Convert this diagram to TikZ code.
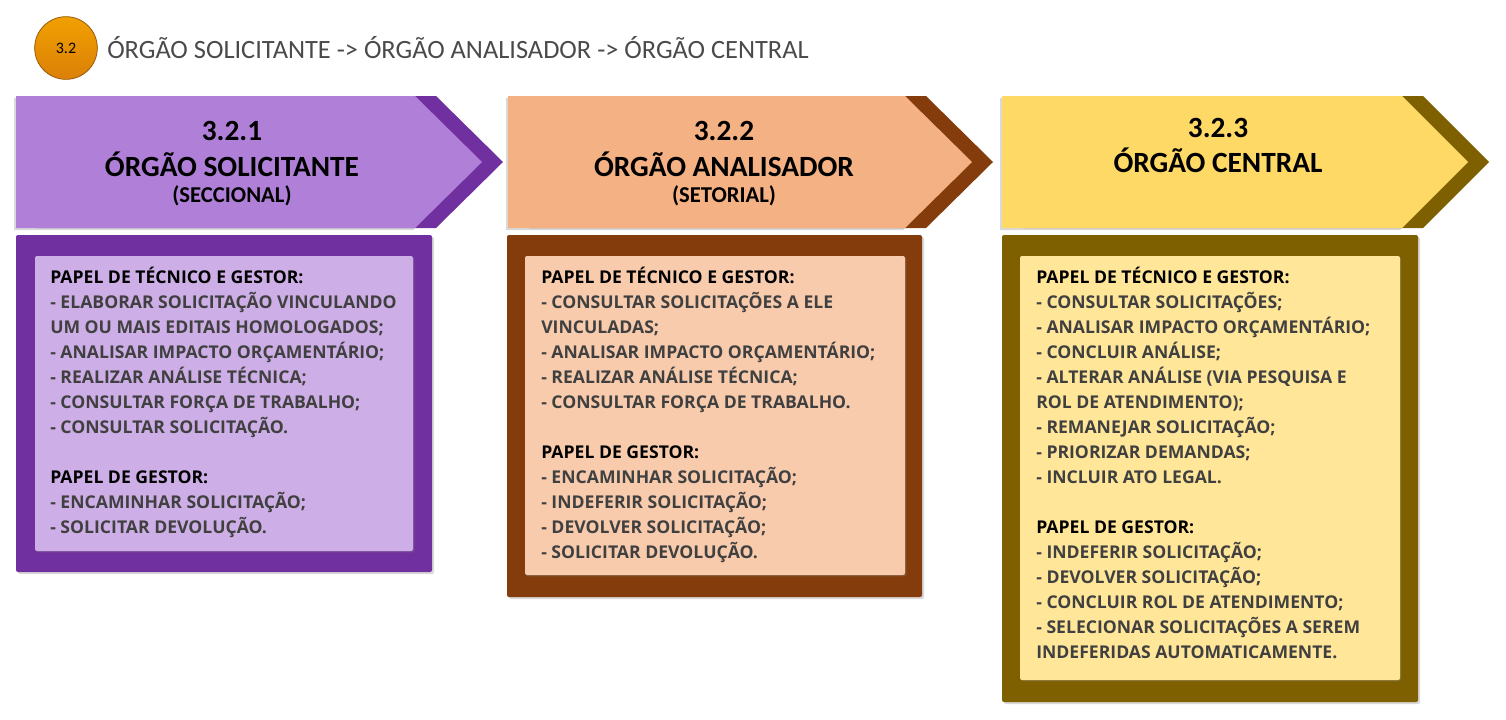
\documentclass[tikz,border=0pt]{standalone}
\usepackage{fontspec}
\setmainfont{Carlito}
\newfontfamily\bodyfont{Open Sans}
\usetikzlibrary{shadows}

\definecolor{purpledark}{HTML}{7030A0}
\definecolor{purplehead}{HTML}{B07FD8}
\definecolor{purplebody}{HTML}{CDAEE6}
\definecolor{browndark}{HTML}{843C0C}
\definecolor{peachhead}{HTML}{F4B183}
\definecolor{peachbody}{HTML}{F8CBAD}
\definecolor{olivedark}{HTML}{7F6000}
\definecolor{yellowhead}{HTML}{FFD966}
\definecolor{yellowbody}{HTML}{FFE699}
\definecolor{titlegray}{HTML}{4A4A4A}
\definecolor{itemgray}{HTML}{404040}
\definecolor{goldtop}{HTML}{F0A000}
\definecolor{goldmid}{HTML}{FFC400}
\definecolor{goldbot}{HTML}{DC8008}

\begin{document}
\begin{tikzpicture}[x=0.75pt,y=-0.75pt,
    outerbox/.style={rounded corners=1.5pt,drop shadow={opacity=0.3,shadow xshift=1.5pt,shadow yshift=-1.5pt}},
    innerbox/.style={rounded corners=1.5pt,drop shadow={opacity=0.35,shadow xshift=1pt,shadow yshift=-1pt}},
    headnum/.style={anchor=base,font=\fontsize{22}{26}\bfseries\selectfont},
    headname/.style={anchor=base,font=\fontsize{22}{26}\bfseries\selectfont},
    headsub/.style={anchor=base,font=\fontsize{17}{20}\bfseries\selectfont},
    bodytxt/.style={anchor=north west,align=left,inner sep=0pt,text=itemgray,
      font=\bodyfont\bfseries\fontsize{13.2}{18.75}\selectfont}]
\useasboundingbox (0,0) rectangle (1506,719);

% numero e titulo
\node[circle,draw=goldbot!70!black,line width=0.6pt,minimum size=47pt,inner sep=0pt,
  top color=goldtop,middle color=goldmid,bottom color=goldbot,
  font=\fontsize{12}{14}\selectfont] (num) at (66,48) {3.2};
\node[anchor=west,inner sep=0pt,text=titlegray,font=\fontsize{19.8}{24}\selectfont] (title) at (107,48)
  {ÓRGÃO SOLICITANTE -> ÓRGÃO ANALISADOR -> ÓRGÃO CENTRAL};

% setas do topo
\fill[purpledark] (37,96) -- (436,96) -- (503,162) -- (436,228) -- (37,228) -- cycle;
\fill[purplehead,drop shadow={opacity=0.3,shadow xshift=-1.5pt,shadow yshift=-1.5pt}]
  (16,96) -- (415,96) -- (482,162) -- (415,228) -- (16,228) -- cycle;
\fill[browndark] (529,96) -- (926,96) -- (993,162) -- (926,228) -- (529,228) -- cycle;
\fill[peachhead,drop shadow={opacity=0.3,shadow xshift=-1.5pt,shadow yshift=-1.5pt}]
  (508,96) -- (905,96) -- (972,162) -- (905,228) -- (508,228) -- cycle;
\fill[olivedark] (1023,96) -- (1423,96) -- (1489,162) -- (1423,228) -- (1023,228) -- cycle;
\fill[yellowhead,drop shadow={opacity=0.3,shadow xshift=-1.5pt,shadow yshift=-1.5pt}]
  (1002,96) -- (1402,96) -- (1468,162) -- (1402,228) -- (1002,228) -- cycle;

\node[headnum] (numsol) at (232,140) {3.2.1};
\node[headname] (namesol) at (232,176) {ÓRGÃO SOLICITANTE};
\node[headsub] (subsol) at (232,202) {(SECCIONAL)};
\node[headnum] (numana) at (724,140) {3.2.2};
\node[headname] (nameana) at (724,176) {ÓRGÃO ANALISADOR};
\node[headsub] (subana) at (724,202) {(SETORIAL)};
\node[headnum] (numcen) at (1218,137) {3.2.3};
\node[headname] (namecen) at (1218,172) {ÓRGÃO CENTRAL};

% caixas
\fill[purpledark,outerbox] (16,235) rectangle (432,572);
\fill[purplebody,innerbox] (35,256) rectangle (413,551);
\fill[browndark,outerbox] (507,235) rectangle (922,597);
\fill[peachbody,innerbox] (525,256) rectangle (905,575);
\fill[olivedark,outerbox] (1002,235) rectangle (1418,702);
\fill[yellowbody,innerbox] (1020,256) rectangle (1400,680);

\node[bodytxt] (txtsol) at (50,267) {\textcolor{black}{PAPEL DE TÉCNICO E GESTOR:}\\
- ELABORAR SOLICITAÇÃO VINCULANDO\\
UM OU MAIS EDITAIS HOMOLOGADOS;\\
- ANALISAR IMPACTO ORÇAMENTÁRIO;\\
- REALIZAR ANÁLISE TÉCNICA;\\
- CONSULTAR FORÇA DE TRABALHO;\\
- CONSULTAR SOLICITAÇÃO.\\[18.75pt]
\textcolor{black}{PAPEL DE GESTOR:}\\
- ENCAMINHAR SOLICITAÇÃO;\\
- SOLICITAR DEVOLUÇÃO.};

\node[bodytxt] (txtana) at (541,267) {\textcolor{black}{PAPEL DE TÉCNICO E GESTOR:}\\
- CONSULTAR SOLICITAÇÕES A ELE\\
VINCULADAS;\\
- ANALISAR IMPACTO ORÇAMENTÁRIO;\\
- REALIZAR ANÁLISE TÉCNICA;\\
- CONSULTAR FORÇA DE TRABALHO.\\[18.75pt]
\textcolor{black}{PAPEL DE GESTOR:}\\
- ENCAMINHAR SOLICITAÇÃO;\\
- INDEFERIR SOLICITAÇÃO;\\
- DEVOLVER SOLICITAÇÃO;\\
- SOLICITAR DEVOLUÇÃO.};

\node[bodytxt] (txtcen) at (1036,267) {\textcolor{black}{PAPEL DE TÉCNICO E GESTOR:}\\
- CONSULTAR SOLICITAÇÕES;\\
- ANALISAR IMPACTO ORÇAMENTÁRIO;\\
- CONCLUIR ANÁLISE;\\
- ALTERAR ANÁLISE (VIA PESQUISA E\\
ROL DE ATENDIMENTO);\\
- REMANEJAR SOLICITAÇÃO;\\
- PRIORIZAR DEMANDAS;\\
- INCLUIR ATO LEGAL.\\[18.75pt]
\textcolor{black}{PAPEL DE GESTOR:}\\
- INDEFERIR SOLICITAÇÃO;\\
- DEVOLVER SOLICITAÇÃO;\\
- CONCLUIR ROL DE ATENDIMENTO;\\
- SELECIONAR SOLICITAÇÕES A SEREM\\
INDEFERIDAS AUTOMATICAMENTE.};
\end{tikzpicture}
\end{document}
